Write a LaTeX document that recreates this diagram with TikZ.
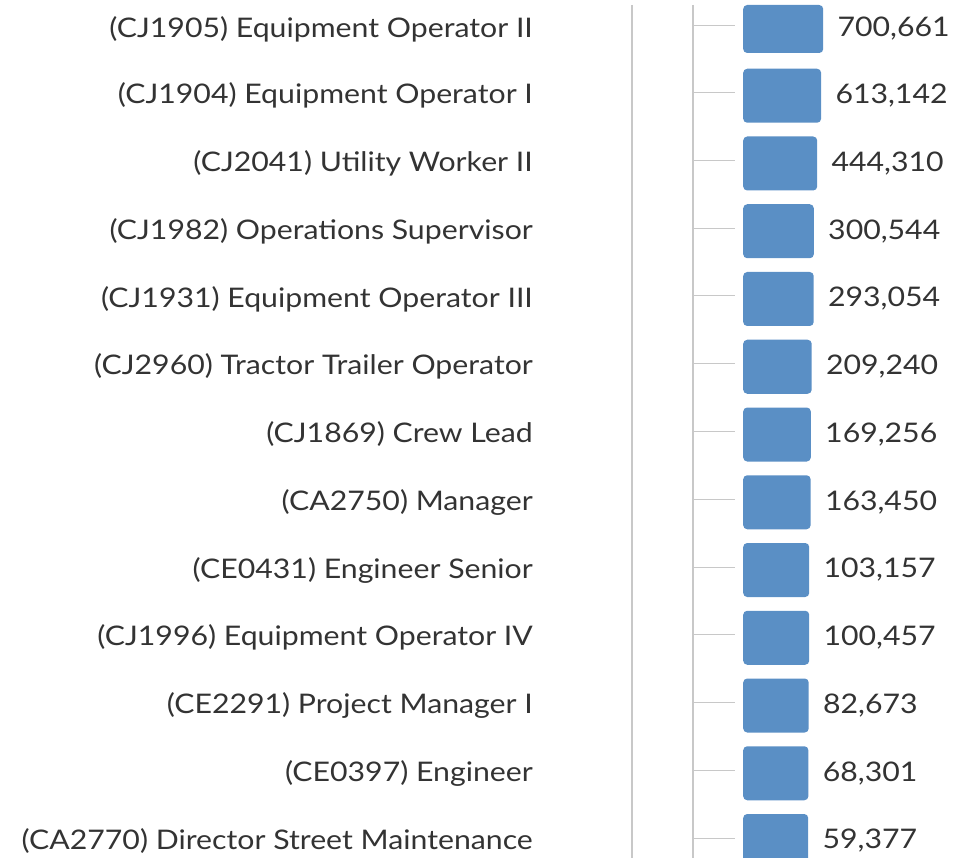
\documentclass[tikz,border=0pt]{standalone}
\usepackage{fontspec}
\setmainfont{Lato}[FakeStretch=1.12]
\definecolor{barblue}{HTML}{5A8FC5}
\definecolor{axisgray}{HTML}{C8C8C8}
\definecolor{txt}{HTML}{333333}
\begin{document}
\begin{tikzpicture}[x=1pt,y=-1pt,
  lab/.style={anchor=east,inner sep=0pt,text=txt,font=\fontsize{27}{31}\selectfont},
  val/.style={anchor=west,inner sep=0pt,text=txt,font=\fontsize{27}{31}\selectfont},
  barbox/.style={anchor=west,fill=barblue,draw=none,rounded corners=4pt,inner sep=0pt,minimum height=54pt},
  tick/.style={draw=axisgray,line width=1pt,shorten >=8pt},
  axis/.style={draw=axisgray,line width=1.5pt}]
\useasboundingbox (0,0) rectangle (966,858);
\coordinate (axtop) at (632,5);
\coordinate (axbot) at (632,858);
\coordinate (tktop) at (693,5);
\coordinate (tkbot) at (693,858);
\draw[axis] (axtop) -- (axbot);
\draw[axis,line width=1.2pt] (tktop) -- (tkbot);
\foreach \i/\lab/\val/\w in {
  0/{(CJ1905) Equipment Operator II}/{700,661}/80.0,
  1/{(CJ1904) Equipment Operator I}/{613,142}/77.9,
  2/{(CJ2041) Utility Worker II}/{444,310}/74.0,
  3/{(CJ1982) Operations Supervisor}/{300,544}/70.6,
  4/{(CJ1931) Equipment Operator III}/{293,054}/70.5,
  5/{(CJ2960) Tractor Trailer Operator}/{209,240}/68.5,
  6/{(CJ1869) Crew Lead}/{169,256}/67.6,
  7/{(CA2750) Manager}/{163,450}/67.4,
  8/{(CE0431) Engineer Senior}/{103,157}/66.0,
  9/{(CJ1996) Equipment Operator IV}/{100,457}/66.0,
  10/{(CE2291) Project Manager I}/{82,673}/65.5,
  11/{(CE0397) Engineer}/{68,301}/65.2,
  12/{(CA2770) Director Street Maintenance}/{59,377}/65.0}{
  \pgfmathsetmacro{\yy}{ifthenelse(\i==0,29,28+67.75*\i)}
  \pgfmathsetmacro{\hh}{ifthenelse(\i==0,48,54)}
  \node[lab] (l\i) at (533,\yy) {\lab};
  \node[barbox,minimum width=\w pt,minimum height=\hh pt] (b\i) at (743,\yy) {};
  \coordinate (a\i) at (693,\yy-3);
  \draw[tick] (a\i) -- (a\i -| b\i.west);
  \node[val] (v\i) at ([xshift=14pt]b\i.east) {\val};
}
\end{tikzpicture}
\end{document}
